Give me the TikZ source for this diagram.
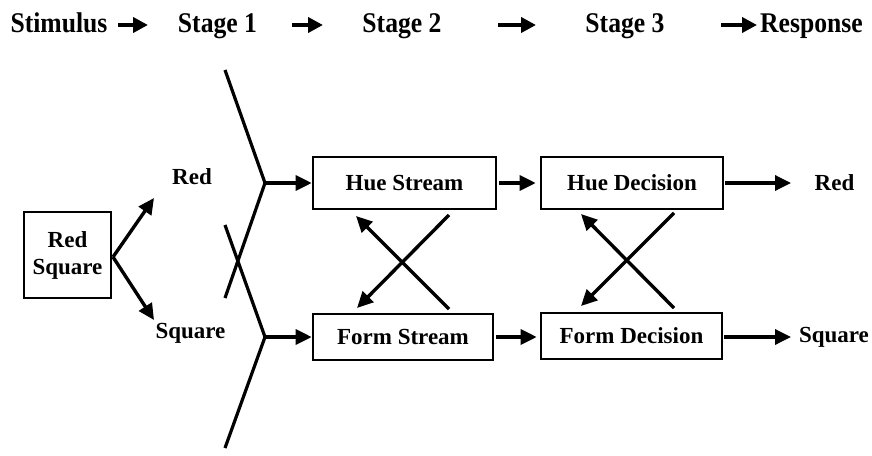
\documentclass[tikz,border=0pt]{standalone}
\usepackage{fontspec}
\setmainfont{Liberation Serif}
\newfontfamily\hdrfont[FakeStretch=0.9]{Liberation Serif}
\usetikzlibrary{arrows.meta}
\begin{document}
\begin{tikzpicture}[x=1pt,y=-1pt,
  hdr/.style={font=\hdrfont\fontsize{28.5}{32}\selectfont\bfseries, inner sep=0pt, anchor=base},
  lbl/.style={font=\fontsize{23}{27}\selectfont\bfseries, inner sep=0pt},
  box/.style={draw, line width=2.6pt, font=\fontsize{23}{27}\selectfont\bfseries, inner sep=0pt, align=center},
  arr/.style={line width=3.4pt, -{Triangle[length=16pt,width=15pt]}},
  harr/.style={line width=3.8pt, -{Triangle[length=15pt,width=15pt]}},
  ln/.style={line width=3.2pt}
]
\useasboundingbox (0,0) rectangle (872,455);
% header
\node[hdr] (stim) at (59,32) {Stimulus};
\node[hdr] (st1) at (217.5,32) {Stage 1};
\node[hdr] (st2) at (402,32) {Stage 2};
\node[hdr] (st3) at (625,32) {Stage 3};
\node[hdr] (resp) at (811.5,32) {Response};
\coordinate (h1a) at (118,25); \coordinate (h1b) at (148,25);
\coordinate (h2a) at (292,25); \coordinate (h2b) at (323,25);
\coordinate (h3a) at (498,25); \coordinate (h3b) at (536,25);
\coordinate (h4a) at (721,25); \coordinate (h4b) at (757,25);
\draw[harr] (h1a) -- (h1b);
\draw[harr] (h2a) -- (h2b);
\draw[harr] (h3a) -- (h3b);
\draw[harr] (h4a) -- (h4b);
% boxes
\node[box, minimum width=87pt, minimum height=86pt] (rs) at (67.5,255) {Red\\Square};
\node[box, minimum width=183pt, minimum height=52pt] (hs) at (404.5,183) {Hue Stream};
\node[box, minimum width=180pt, minimum height=46pt] (fs) at (403,337) {Form Stream};
\node[box, minimum width=182pt, minimum height=52pt] (hd) at (632,183) {Hue Decision};
\node[box, minimum width=181pt, minimum height=46pt] (fd) at (631.5,336) {Form Decision};
% labels
\node[lbl] (lred) at (192,177) {Red};
\node[lbl] (lsq) at (190.5,333) {Square};
\node[lbl] (ored) at (834.5,183) {Red};
\node[lbl] (osq) at (834,337) {Square};
% stimulus split
\coordinate (rso) at (113,257);
\coordinate (up) at (154,198);
\coordinate (dn) at (154,320);
\draw[arr] (rso) -- (up);
\draw[arr] (rso) -- (dn);
% stage 1 Ys
\coordinate (j1) at (265,183);
\coordinate (j2) at (265,337);
\coordinate (a1) at (225,70);
\coordinate (b1) at (225,298);
\coordinate (a2) at (225,225);
\coordinate (b2) at (225,448);
\draw[ln] (a1) -- (j1) -- (b1);
\draw[ln] (a2) -- (j2) -- (b2);
\draw[arr] (j1) -- (hs.west);
\draw[arr] (j2) -- (fs.west);
% stage 2 -> 3
\draw[arr, shorten <=2pt, shorten >=4pt] (hs.east) -- (hd.west);
\draw[arr, shorten <=2pt, shorten >=3pt] (fs.east) -- (fd.west |- fs.east);
% crosses
\coordinate (c1a) at (449,215); \coordinate (c1b) at (357,308);
\coordinate (c2a) at (449,309); \coordinate (c2b) at (356,216);
\draw[arr] (c1a) -- (c1b);
\draw[arr] (c2a) -- (c2b);
\coordinate (d1a) at (674,213); \coordinate (d1b) at (581,306);
\coordinate (d2a) at (674,308); \coordinate (d2b) at (581,214);
\draw[arr] (d1a) -- (d1b);
\draw[arr] (d2a) -- (d2b);
% outputs
\coordinate (t1) at (791,183);
\coordinate (t2) at (791,337);
\draw[arr, shorten <=1pt] (hd.east) -- (t1);
\draw[arr, shorten <=1pt] (fd.east |- t2) -- (t2);
\end{tikzpicture}
\end{document}
